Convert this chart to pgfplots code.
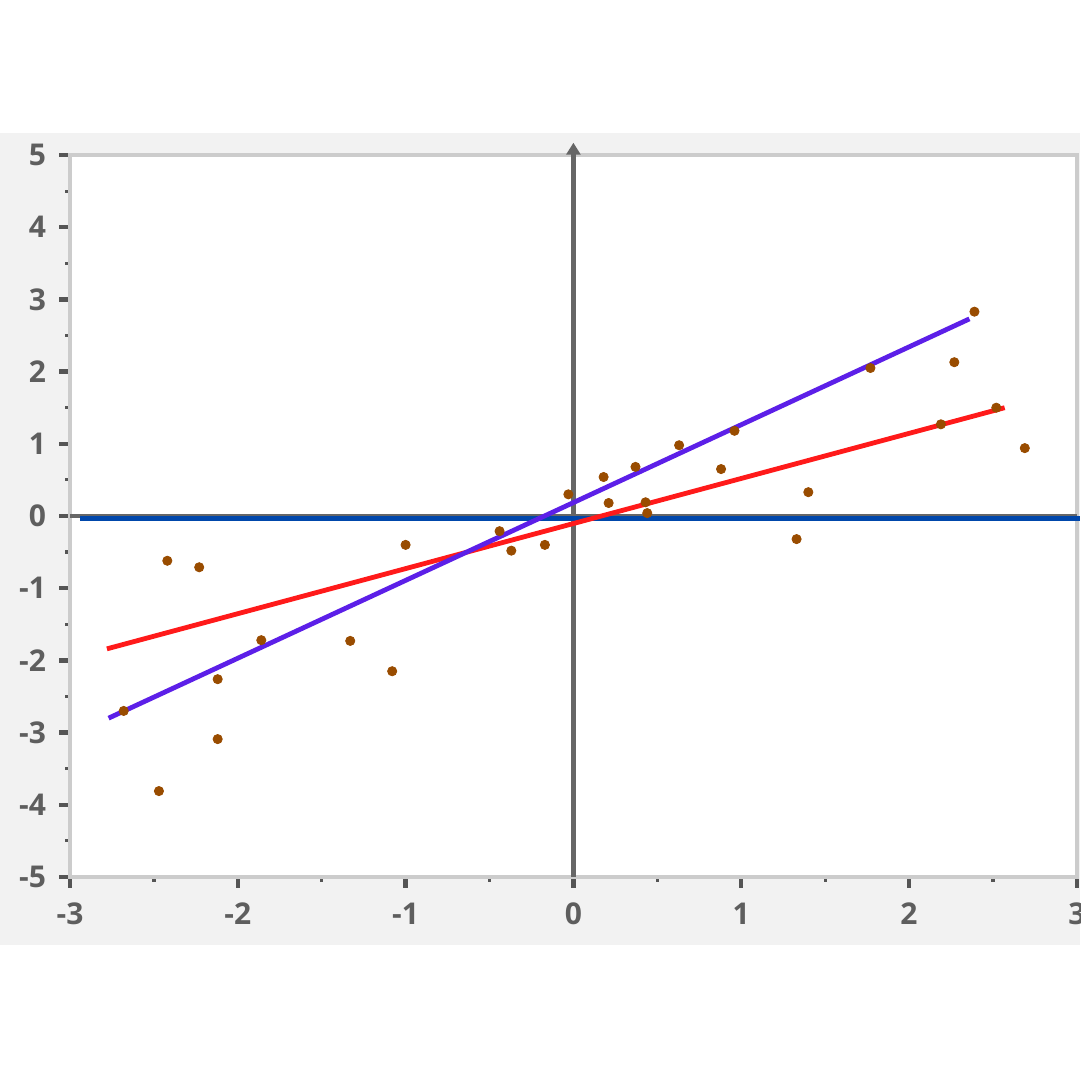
\documentclass[border=0pt]{standalone}
\usepackage{fontspec}
\setmainfont{Open Sans}
\usepackage{pgfplots}
\pgfplotsset{compat=1.18}
\usetikzlibrary{arrows.meta}
\definecolor{panel}{HTML}{F2F2F2}
\definecolor{framegray}{HTML}{CCCCCC}
\definecolor{tickgray}{HTML}{555555}
\definecolor{labelgray}{HTML}{5E5E5E}
\definecolor{axisgray}{HTML}{666666}
\definecolor{dotbrown}{HTML}{994C00}
\definecolor{fitred}{HTML}{FF1A1A}
\definecolor{fitpurple}{HTML}{5C1FE8}
\definecolor{fitblue}{HTML}{0047AB}

\pgfplotstableread{
x y
-2.68 -2.70
-2.42 -0.62
-2.23 -0.71
-2.47 -3.81
-2.12 -2.26
-2.12 -3.09
-1.86 -1.72
-1.33 -1.73
-1.08 -2.15
-1.00 -0.40
-0.44 -0.21
-0.37 -0.48
-0.17 -0.40
-0.03 0.30
0.18 0.54
0.21 0.18
0.37 0.68
0.43 0.19
0.44 0.04
0.63 0.98
0.88 0.65
0.96 1.18
1.33 -0.32
1.40 0.33
1.77 2.05
2.19 1.27
2.27 2.13
2.39 2.83
2.52 1.50
2.69 0.94
}\points

\begin{document}
\begin{tikzpicture}
\useasboundingbox (-35pt,-101.5pt) rectangle (505pt,438.5pt);
\fill[white] (-35pt,-101.5pt) rectangle (505pt,438.5pt);
\fill[panel] (-35pt,-34pt) rectangle (505pt,372pt);
\begin{axis}[
  x=83.9pt, y=36.1pt,
  xmin=-3, xmax=3, ymin=-5, ymax=5,
  axis background/.style={fill=white},
  axis line style={draw=framegray, line width=2.2pt},
  clip=false,
  xtick={-3,...,3}, ytick={-5,...,5},
  minor x tick num=1, minor y tick num=1,
  tick align=outside, xtick pos=left, ytick pos=left,
  major tick length=5.5pt, minor tick length=2.5pt,
  major tick style={draw=tickgray, line width=2.2pt},
  minor tick style={draw=tickgray, line width=1.6pt},
  ticklabel style={font=\fontsize{15}{17}\selectfont\bfseries, text=labelgray},
  xticklabel style={yshift=-4pt},
  yticklabel style={xshift=-3pt},
  /pgf/number format/assume math mode=true,
]
\draw[axisgray, line width=1.8pt] (axis cs:-3,0) -- (axis cs:3,0);
\draw[axisgray, line width=2.4pt, -{Triangle[length=6pt,width=7pt]}] (axis cs:0,-5) -- (axis cs:0,5.17);
\addplot[fitblue, line width=2.4pt] coordinates {(-2.94,-0.04) (3.02,-0.04)};
\addplot[only marks, mark=*, mark size=2.3pt, dotbrown] table {\points};
\addplot[fitred, line width=2.4pt] coordinates {(-2.78,-1.84) (2.57,1.50)};
\addplot[fitpurple, line width=2.4pt] coordinates {(-2.77,-2.80) (2.36,2.73)};
\end{axis}
\end{tikzpicture}
\end{document}
